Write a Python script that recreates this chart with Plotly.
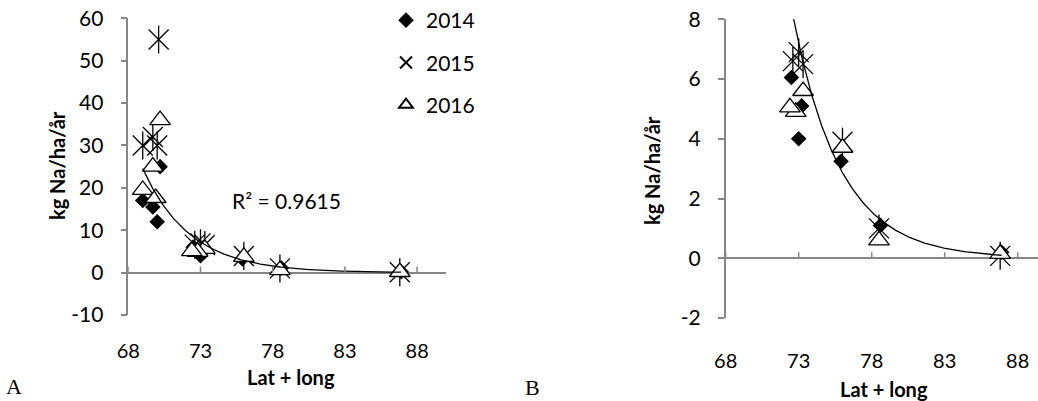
import numpy as np
import plotly.graph_objects as go

# Lat + long of each station and yearly Na deposition (kg Na/ha/år)
x_2014 = [69.0, 69.7, 70.0, 70.2, 72.5, 73.2, 73.0, 75.9, 78.6, 86.9]
y_2014 = [17.0, 15.5, 12.0, 25.0, 6.05, 5.1, 4.0, 3.25, 1.1, 0.2]
x_2015 = [69.0, 69.7, 70.0, 70.1, 72.6, 73.0, 73.3, 76.0, 78.5, 86.8]
y_2015 = [30.0, 32.0, 30.0, 55.0, 6.6, 6.9, 6.5, 3.9, 1.0, 0.08]
x_2016 = [69.0, 69.9, 69.7, 70.2, 73.3, 72.8, 72.4, 76.0, 78.5, 86.8]
y_2016 = [19.5, 17.6, 25.0, 36.0, 5.6, 4.9, 5.05, 3.7, 0.6, 0.15]

x_ticks = [68, 73, 78, 83, 88]
y_ticks_a = [-10, 0, 10, 20, 30, 40, 50, 60]
y_ticks_b = [-2, 0, 2, 4, 6, 8]
r2_text = "R² = 0.9615"
y_title = "kg Na/ha/år"
x_title = "Lat + long"
panel_labels = ["A", "B"]

W, H = 1038, 401
GRAY = "#868686"
FONT = "Lato"


def px_x(p):
    return p / W


def px_y(p):
    return 1 - p / H


# exponential trend line y = a * exp(b x), fitted on ln(y)
x_all = np.array(x_2014 + x_2015 + x_2016)
y_all = np.array(y_2014 + y_2015 + y_2016)
b, ln_a = np.polyfit(x_all, np.log(y_all), 1)
x_fit = np.linspace(x_all.min(), x_all.max(), 300)
y_fit = np.exp(ln_a + b * x_fit)

fig = go.Figure()

panels = [("x", "y", True), ("x2", "y2", False)]
for xa, ya, show in panels:
    fig.add_trace(go.Scatter(
        x=x_2014, y=y_2014, xaxis=xa, yaxis=ya, mode="markers", name="2014",
        legendgroup="2014", showlegend=show, hoverinfo="skip",
        marker=dict(symbol="diamond", size=12, color="black", line=dict(width=0))))
    fig.add_trace(go.Scatter(
        x=x_2015, y=y_2015, xaxis=xa, yaxis=ya, mode="markers", name="2015",
        legendgroup="2015", showlegend=show, hoverinfo="skip",
        marker=dict(symbol="x-thin-open", size=20, color="black",
                    line=dict(width=1.3, color="black"))))
    fig.add_trace(go.Scatter(
        x=x_2015, y=y_2015, xaxis=xa, yaxis=ya, mode="markers", name="2015",
        legendgroup="2015", showlegend=False, hoverinfo="skip",
        marker=dict(symbol="line-ns-open", size=20, color="black",
                    line=dict(width=1.3, color="black"))))
    fig.add_trace(go.Scatter(
        x=x_2016, y=y_2016, xaxis=xa, yaxis=ya, mode="markers", name="2016",
        legendgroup="2016", showlegend=show, hoverinfo="skip",
        marker=dict(symbol="triangle-up", size=18, color="white",
                    line=dict(width=1.3, color="black"))))
    fig.add_trace(go.Scatter(
        x=x_fit, y=y_fit, xaxis=xa, yaxis=ya, mode="lines", showlegend=False,
        hoverinfo="skip", line=dict(color="black", width=1.3)))

tick_font = dict(family=FONT, size=21, color="black")
xtick_font = dict(family=FONT, size=20, color="black")


def x_axis(domain, rng, anchor, standoff):
    return dict(domain=domain, range=rng, anchor=anchor, tickvals=x_ticks,
                ticktext=[str(t) for t in x_ticks], showline=False, ticks="",
                showgrid=False, zeroline=False, tickfont=xtick_font,
                ticklabelstandoff=standoff)


def y_axis(domain, rng, ticks, anchor):
    return dict(domain=domain, range=rng, anchor=anchor, tickvals=ticks,
                ticktext=[str(t) for t in ticks],
                showline=True, linecolor=GRAY, linewidth=1.5, ticks="outside",
                ticklen=6, tickwidth=1.5, tickcolor=GRAY, showgrid=False,
                zeroline=True, zerolinecolor=GRAY, zerolinewidth=1.5,
                tickfont=tick_font, ticklabelstandoff=13)


fig.update_layout(
    width=W, height=H,
    margin=dict(l=0, r=0, t=0, b=0, autoexpand=False),
    paper_bgcolor="white", plot_bgcolor="white",
    xaxis=x_axis([px_x(128.3), px_x(446)], [68, 90], "y", 22),
    yaxis=y_axis([px_y(315), px_y(18.3)], [-10, 60], y_ticks_a, "x"),
    xaxis2=x_axis([px_x(725.7), 1.0], [68, 68 + (W - 725.7) / 14.6], "y2", 29),
    yaxis2=y_axis([px_y(318), px_y(19.3)], [-2, 8], y_ticks_b, "x2"),
    legend=dict(x=px_x(386), y=1.0, xanchor="left", yanchor="top",
                font=dict(family=FONT, size=21, color="black"),
                tracegroupgap=12, itemsizing="constant",
                bgcolor="rgba(0,0,0,0)"),
    showlegend=True,
)

# x-axis tick marks sit on the zero line, pointing up
shapes = []
for xr, yr in [("x", "y"), ("x2", "y2")]:
    for t in x_ticks:
        shapes.append(dict(type="line", xref=xr, yref=yr, x0=t, x1=t,
                           ysizemode="pixel", yanchor=0, y0=0, y1=6,
                           line=dict(color=GRAY, width=1.5)))
fig.update_layout(shapes=shapes)

title_font = dict(family=FONT, size=20, color="black", weight="bold")
annotations = [
    dict(text=r2_text, x=px_x(286), y=px_y(200), xref="paper", yref="paper",
         showarrow=False, xanchor="center", yanchor="middle",
         font=dict(family=FONT, size=21, color="black")),
    dict(text=y_title, x=px_x(57), y=px_y(166), xref="paper", yref="paper",
         showarrow=False, textangle=-90, xanchor="center", yanchor="middle",
         font=title_font),
    dict(text=y_title, x=px_x(652), y=px_y(171), xref="paper", yref="paper",
         showarrow=False, textangle=-90, xanchor="center", yanchor="middle",
         font=title_font),
    dict(text=x_title, x=px_x(291), y=px_y(377), xref="paper", yref="paper",
         showarrow=False, xanchor="center", yanchor="middle", font=title_font),
    dict(text=x_title, x=px_x(884), y=px_y(389), xref="paper", yref="paper",
         showarrow=False, xanchor="center", yanchor="middle", font=title_font),
    dict(text=panel_labels[0], x=px_x(14), y=px_y(386), xref="paper",
         yref="paper", showarrow=False, xanchor="center", yanchor="middle",
         font=dict(family="Liberation Serif", size=22, color="black")),
    dict(text=panel_labels[1], x=px_x(532), y=px_y(387), xref="paper",
         yref="paper", showarrow=False, xanchor="center", yanchor="middle",
         font=dict(family="Liberation Serif", size=22, color="black")),
]
fig.update_layout(annotations=annotations)

fig.write_html("out.html")
